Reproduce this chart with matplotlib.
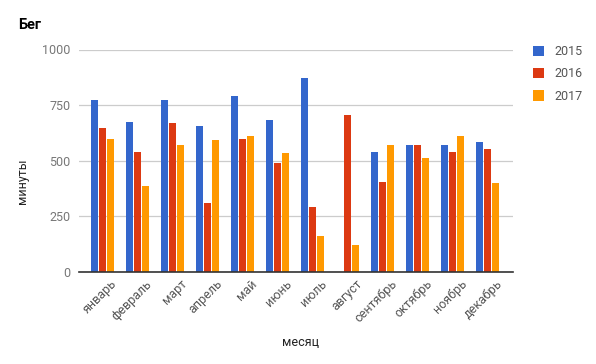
import matplotlib
matplotlib.use("Agg")
import matplotlib.pyplot as plt
import matplotlib.transforms as mtransforms
import numpy as np

plt.rcParams['font.family'] = ['Roboto', 'DejaVu Sans']

months = ["январь", "февраль", "март", "апрель", "май", "июнь",
          "июль", "август", "сентябрь", "октябрь", "ноябрь", "декабрь"]
series_names = ["2015", "2016", "2017"]
v2015 = [773, 674, 773, 656, 791, 683, 872, 0, 539, 571, 571, 584]
v2016 = [647, 539, 670, 310, 598, 490, 292, 706, 404, 571, 539, 553]
v2017 = [598, 386, 571, 593, 611, 535, 162, 121, 571, 512, 611, 400]
colors = ["#3366CC", "#DC3912", "#FF9900"]
yticks = [0, 250, 500, 750, 1000]

fig = plt.figure(figsize=(5.96, 3.64), dpi=100)
ax = fig.add_axes([79/596, 1-272/364, (513-79)/596, (272-49.5)/364])

x = np.arange(len(months))
bw = 0.2
off = 8/35
for i, (vals, c, name) in enumerate(zip([v2015, v2016, v2017], colors, series_names)):
    ax.bar(x + (i-1)*off, vals, width=bw, color=c, label=name, zorder=3)

ax.set_xlim((79-102.5)/35, (513-102.5)/35)
ax.set_ylim(0, 1000)
ax.set_yticks(yticks)
ax.set_yticklabels([str(t) for t in yticks], color="#777777", fontsize=9)
ax.set_xticks(x)
ax.set_xticklabels(months, rotation=45, ha="right", va="top", rotation_mode="anchor",
                   color="#555555", fontsize=9)
ax.tick_params(axis="both", length=0, pad=6)
ax.tick_params(axis="x", pad=4)
shift = mtransforms.ScaledTranslation(8/100, 0, fig.dpi_scale_trans)
for lab in ax.get_xticklabels():
    lab.set_transform(lab.get_transform() + shift)
ax.grid(axis="y", color="#cccccc", linewidth=0.9, zorder=0)
for s in ["top", "right", "left"]:
    ax.spines[s].set_visible(False)
ax.spines["bottom"].set_color("#333333")
ax.spines["bottom"].set_linewidth(1.2)
ax.spines["bottom"].set_zorder(4)

fig.text(23/596, 1-181/364, "минуты", fontsize=9, color="#222222", rotation=90,
         ha="center", va="center")
fig.text(300/596, 1-343/364, "месяц", fontsize=9, color="#222222", ha="center", va="center")
fig.text(18/596, 1-25/364, "Бег", fontsize=10.5, fontweight="bold", color="#000000",
         ha="left", va="center")

leg = fig.legend(loc="upper left", bbox_to_anchor=(528/596, 1-40/364), frameon=False,
                 fontsize=9, handlelength=0.9, handleheight=0.9, labelspacing=0.75,
                 handletextpad=0.8, borderaxespad=0)
for t in leg.get_texts():
    t.set_color("#555555")

fig.savefig("out.png", dpi=100)
